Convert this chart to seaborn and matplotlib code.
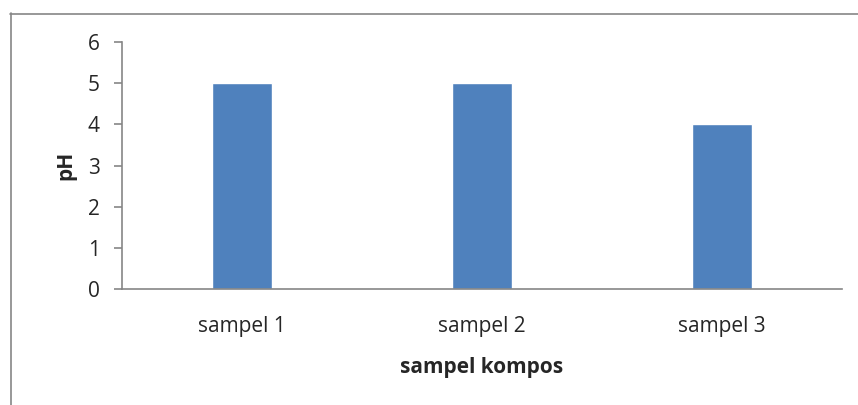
import pandas as pd
import seaborn as sns
import matplotlib.pyplot as plt
from matplotlib.lines import Line2D

kategori = ['sampel 1', 'sampel 2', 'sampel 3']
nilai_ph = [5, 5, 4]

df = pd.DataFrame({'sampel': kategori, 'pH': nilai_ph})

sns.set_style('white')
plt.rcParams['font.family'] = ['Open Sans', 'DejaVu Sans']

W, H = 858, 405
fig = plt.figure(figsize=(W / 100, H / 100), dpi=100)
ax = fig.add_axes([122 / W, 1 - 289 / H, (842 - 122) / W, (289 - 42) / H])

sns.barplot(data=df, x='sampel', y='pH', color='#4F81BD', width=0.25,
            saturation=1, ax=ax)

ax.set_ylim(0, 6)
ax.set_xlim(-0.5, 2.5)
ax.set_yticks(range(0, 7))
ax.tick_params(axis='y', left=True, direction='out', length=6, width=1.2,
               color='#868686', labelsize=15, pad=10)
ax.tick_params(axis='x', bottom=False, labelsize=15, pad=16)
for s in ['top', 'right']:
    ax.spines[s].set_visible(False)
for s in ['left', 'bottom']:
    ax.spines[s].set_color('#868686')
    ax.spines[s].set_linewidth(1.2)

ax.set_xlabel('sampel kompos', fontsize=15, fontweight='bold', labelpad=14)
ax.set_ylabel('pH', fontsize=15, fontweight='bold', labelpad=8)

# border of the chart area
fig.add_artist(Line2D([10.5 / W, 10.5 / W], [0, 1 - 13 / H], color='#868686', lw=1.2))
fig.add_artist(Line2D([10 / W, 1], [1 - 13.5 / H, 1 - 13.5 / H], color='#868686', lw=1.2))

fig.savefig('out.png', dpi=100)
